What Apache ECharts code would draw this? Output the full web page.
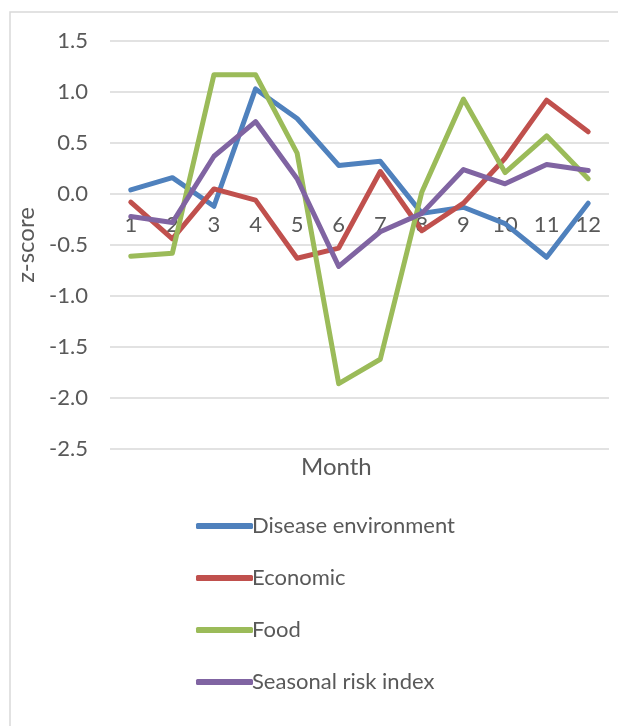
<!DOCTYPE html>
<html>
<head>
<meta charset="utf-8">
<script src="https://cdn.jsdelivr.net/npm/echarts@6/dist/echarts.min.js"></script>
<style>html,body{margin:0;padding:0;background:#fff;}#c{width:618px;height:726px;}</style>
</head>
<body>
<div id="c"></div>
<script>
const months = ['1','2','3','4','5','6','7','8','9','10','11','12'];
const seriesNames = ['Disease environment','Economic','Food','Seasonal risk index'];
const diseaseEnv = [0.04, 0.16, -0.12, 1.03, 0.74, 0.28, 0.32, -0.19, -0.13, -0.29, -0.62, -0.09];
const economic   = [-0.08, -0.44, 0.05, -0.06, -0.63, -0.53, 0.22, -0.36, -0.09, 0.35, 0.92, 0.61];
const food       = [-0.61, -0.58, 1.17, 1.17, 0.40, -1.86, -1.62, 0.02, 0.93, 0.21, 0.57, 0.15];
const seasonal   = [-0.22, -0.28, 0.37, 0.71, 0.15, -0.71, -0.37, -0.19, 0.24, 0.10, 0.29, 0.23];
const colors = ['#4F81BD','#C0504D','#9BBB59','#8064A2'];
const FONT = 'Lato';
const TXT = '#595959';

const chart = echarts.init(document.getElementById('c'), null, {renderer:'canvas'});
const dataSets = [diseaseEnv, economic, food, seasonal];
chart.setOption({
  animation: false,
  backgroundColor: '#fff',
  color: colors,
  graphic: [
    { type:'rect', shape:{x:10, y:12, width:700, height:800}, style:{fill:'none', stroke:'#D9D9D9', lineWidth:1.5}, silent:true },
    { type:'text', left:301, top:455, style:{text:'Month', fill:TXT, font:'24px Lato'} }
  ],
  grid: { left:110, right:9, top:41, bottom:277, containLabel:false },
  legend: {
    orient:'vertical', left:191, top:510, itemWidth:57, itemHeight:6, itemGap:30,
    icon:'roundRect',
    data: seriesNames,
    textStyle:{ color:TXT, fontFamily:FONT, fontSize:22, padding:[0,0,0,-6] }
  },
  xAxis: {
    type:'category', data: months, boundaryGap:true,
    offset: -255,
    axisLine:{ show:false, onZero:false },
    axisTick:{ show:false },
    axisLabel:{ color:TXT, fontFamily:FONT, fontSize:22, margin:20 },
    splitLine:{ show:false }
  },
  yAxis: {
    type:'value', min:-2.5, max:1.5, interval:0.5,
    name:'z-score', nameLocation:'middle', nameRotate:90, nameGap:63,
    nameTextStyle:{ color:TXT, fontFamily:FONT, fontSize:24 },
    axisLine:{ show:false }, axisTick:{ show:false },
    axisLabel:{ color:TXT, fontFamily:FONT, fontSize:22, margin:22, formatter: v => v.toFixed(1) },
    splitLine:{ lineStyle:{ color:'#D9D9D9', width:1.5 } }
  },
  series: seriesNames.map((n,i) => ({
    name:n, type:'line', data:dataSets[i], symbol:'none', smooth:false,
    lineStyle:{ width:5, color:colors[i], cap:'round', join:'round' },
    itemStyle:{ color:colors[i] }
  }))
});
</script>
</body>
</html>
